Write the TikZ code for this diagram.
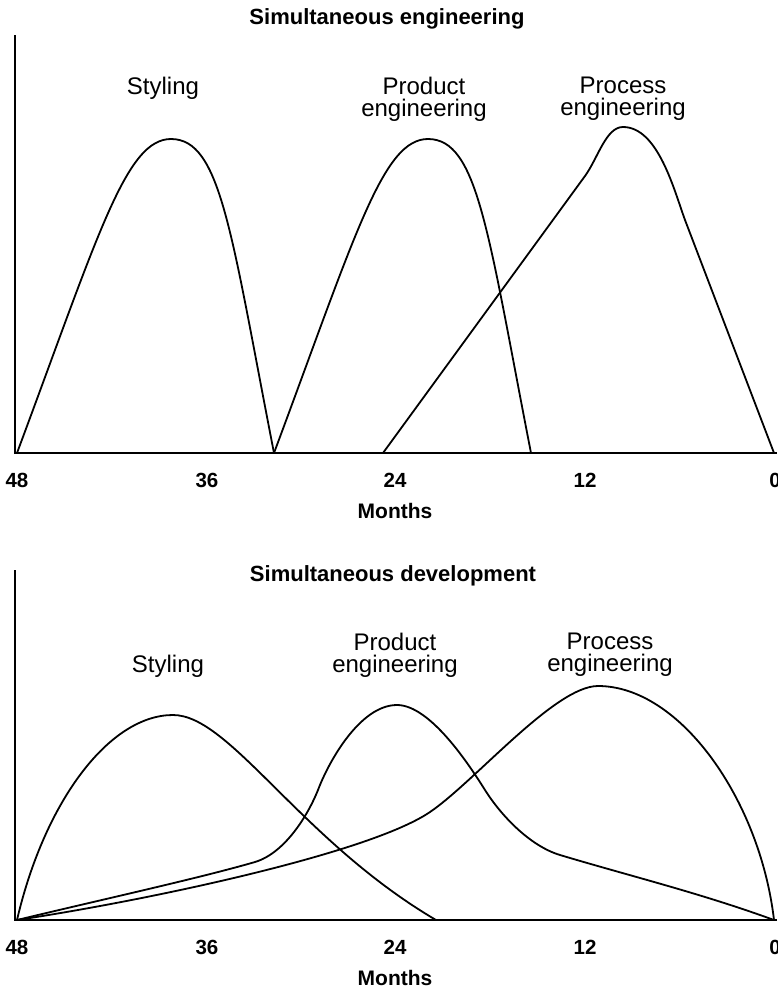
\documentclass[tikz,border=0pt]{standalone}
\usepackage{fontspec}
\setmainfont{Liberation Sans}
\begin{document}
\begin{tikzpicture}[x=1pt, y=-1pt,
  axisline/.style={line width=2.6pt, line join=miter},
  curve/.style={line width=1.8pt, line join=round},
  charttitle/.style={font=\fontsize{22}{26}\selectfont\bfseries, anchor=base, inner sep=0},
  phase/.style={font=\fontsize{24}{22}\selectfont, align=center, anchor=north, inner sep=0},
  tick/.style={font=\fontsize{20.5}{24}\selectfont\bfseries, anchor=base, inner sep=0},
  unit/.style={font=\fontsize{21}{25}\selectfont\bfseries, anchor=base, inner sep=0}]
\useasboundingbox (0,0) rectangle (778,993);

% ---------- upper chart: simultaneous engineering ----------
\node[charttitle] (t1) at (387,24) {Simultaneous engineering};
\coordinate (a1top) at (15,35);
\coordinate (a1org) at (15,453);
\coordinate (a1end) at (777,453);
\draw[axisline] (a1top) -- (a1org) -- (a1end);

\node[phase] (s1) at (163,77) {Styling};
\node[phase] (p1) at (424,77) {Product\\engineering};
\node[phase] (q1) at (623,77) {Process\\engineering};

% styling
\draw[curve] (17,453) .. controls (99,233) and (126,139) .. (171,139)
  .. controls (221,139) and (231,233) .. (274,453);
% product engineering
\draw[curve] (274,453) .. controls (356,233) and (383,139) .. (428,139)
  .. controls (478,139) and (488,233) .. (531,453);
% process engineering
\draw[curve] (383,453) -- (585,176) .. controls (598,158) and (606,127) .. (623,127)
  .. controls (658,127) and (674,190) .. (685,220) -- (774,453);

\node[tick] (x48a) at (17,487) {48};
\node[tick] (x36a) at (207,487) {36};
\node[tick] (x24a) at (395,487) {24};
\node[tick] (x12a) at (585,487) {12};
\node[tick] (x0a) at (775,487) {0};
\node[unit] (m1) at (395,518) {Months};

% ---------- lower chart: simultaneous development ----------
\node[charttitle] (t2) at (393,581) {Simultaneous development};
\coordinate (a2top) at (15,570);
\coordinate (a2org) at (15,920);
\coordinate (a2end) at (777,920);
\draw[axisline] (a2top) -- (a2org) -- (a2end);

\node[phase] (s2) at (168,655) {Styling};
\node[phase] (p2) at (395,633) {Product\\engineering};
\node[phase] (q2) at (610,633) {Process\\engineering};

% styling
\draw[curve] (17,920) .. controls (45,800) and (110,715) .. (173,715)
  .. controls (230,715) and (300,840) .. (436,920);
% product engineering
\draw[curve] (17,920) .. controls (100,900) and (200,878) .. (255,862)
  .. controls (285,853) and (308,815) .. (318,790)
  .. controls (328.5,762) and (360,705) .. (397,705)
  .. controls (430,705) and (469,764.5) .. (485,790)
  .. controls (501,815.5) and (530,846) .. (560,855)
  .. controls (630,876) and (700,893) .. (774,920);
% process engineering
\draw[curve] (17,920) .. controls (150,900) and (370,853) .. (430,812)
  .. controls (475,781.4) and (555,686) .. (598,686)
  .. controls (680,686) and (760,800) .. (774,920);

\node[tick] (x48b) at (17,954) {48};
\node[tick] (x36b) at (207,954) {36};
\node[tick] (x24b) at (395,954) {24};
\node[tick] (x12b) at (585,954) {12};
\node[tick] (x0b) at (775,954) {0};
\node[unit] (m2) at (395,985) {Months};
\end{tikzpicture}
\end{document}
